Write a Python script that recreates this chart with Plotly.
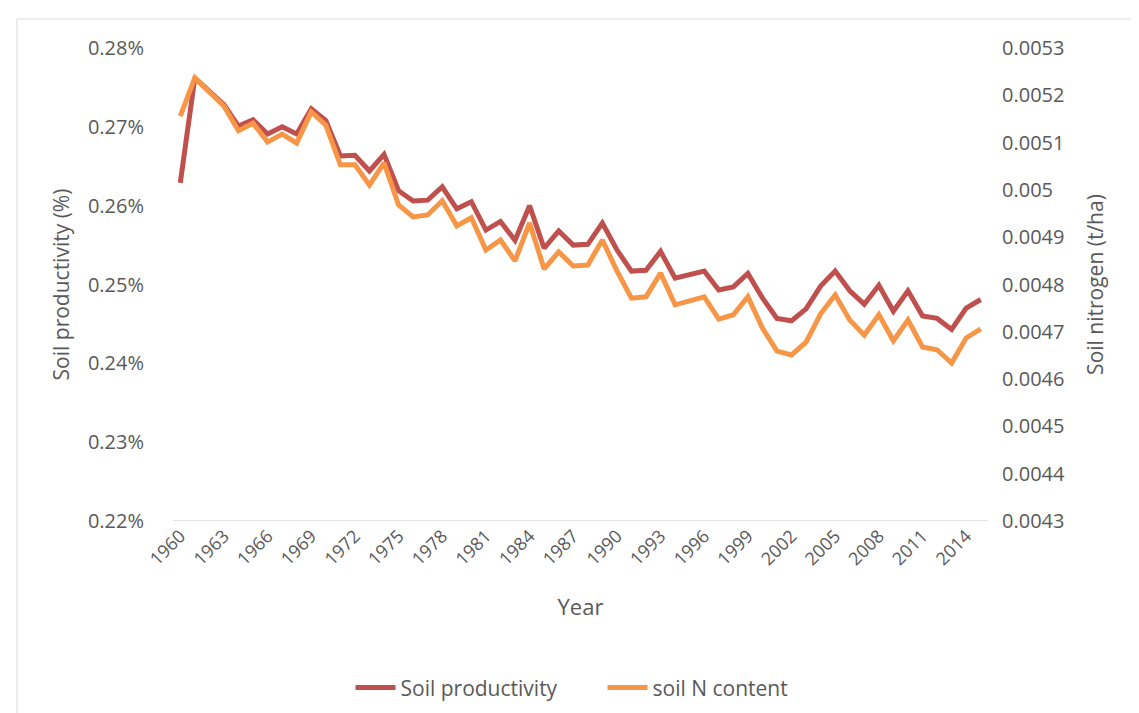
import plotly.graph_objects as go

years = list(range(1960, 2016))

soil_productivity = [
    0.2629, 0.2762, 0.2745, 0.2728, 0.2701, 0.2709, 0.2691, 0.2700, 0.2691, 0.2723,
    0.2708, 0.2663, 0.2664, 0.2644, 0.2665, 0.2619, 0.2606, 0.2607, 0.2624, 0.2596,
    0.2605, 0.2569, 0.2580, 0.2556, 0.2600, 0.2546, 0.2568, 0.2550, 0.2551, 0.2578,
    0.2544, 0.2517, 0.2518, 0.2542, 0.2508, 0.2512, 0.2517, 0.2493, 0.2497, 0.2514,
    0.2483, 0.2457, 0.2454, 0.2469, 0.2498, 0.2517, 0.2492, 0.2475, 0.2499, 0.2466,
    0.2492, 0.2460, 0.2457, 0.2443, 0.2470, 0.2481,
]

soil_n_content = [
    0.005156, 0.005237, 0.005207, 0.005177, 0.005125, 0.005141, 0.005101, 0.005118, 0.005099, 0.005165,
    0.005137, 0.005053, 0.005053, 0.005010, 0.005057, 0.004968, 0.004943, 0.004947, 0.004977, 0.004924,
    0.004941, 0.004873, 0.004894, 0.004850, 0.004930, 0.004833, 0.004869, 0.004839, 0.004841, 0.004894,
    0.004829, 0.004771, 0.004774, 0.004824, 0.004757, 0.004765, 0.004774, 0.004727, 0.004736, 0.004774,
    0.004708, 0.004659, 0.004651, 0.004678, 0.004738, 0.004778, 0.004725, 0.004693, 0.004736, 0.004681,
    0.004725, 0.004668, 0.004662, 0.004634, 0.004687, 0.004706,
]

x_tick_years = years[::3]
left_ticks = [0.22, 0.23, 0.24, 0.25, 0.26, 0.27, 0.28]
right_ticks = [0.0043, 0.0044, 0.0045, 0.0046, 0.0047, 0.0048, 0.0049, 0.0050, 0.0051, 0.0052, 0.0053]

RED = "#C0504D"
ORANGE = "#F79646"
TXT = "#595959"
FONT = "Open Sans"

fig = go.Figure()
fig.add_trace(go.Scatter(x=years, y=soil_productivity, name="Soil productivity",
                         mode="lines", line=dict(color=RED, width=5), yaxis="y"))
fig.add_trace(go.Scatter(x=years, y=soil_n_content, name="soil N content",
                         mode="lines", line=dict(color=ORANGE, width=5), yaxis="y2"))

fig.update_layout(
    width=1139, height=713,
    margin=dict(l=165, r=159, t=40, b=200),
    paper_bgcolor="white", plot_bgcolor="white",
    font=dict(family=FONT, size=19, color=TXT),
    showlegend=True,
    legend=dict(orientation="h", x=0.527, xanchor="center", y=-0.353, yanchor="middle",
                font=dict(family=FONT, size=21, color=TXT), itemwidth=40,
                entrywidth=197, traceorder="normal"),
    xaxis=dict(
        range=[1959.5, 2015.5], tickmode="array", tickvals=x_tick_years,
        ticktext=[str(y) for y in x_tick_years], tickangle=-45,
        showgrid=False, zeroline=False, showline=False, ticks="",
        tickfont=dict(family=FONT, size=18, color=TXT),
        title=dict(text="Year", font=dict(family=FONT, size=22, color=TXT), standoff=30),
    ),
    yaxis=dict(
        range=[0.22, 0.28], tickmode="array", tickvals=left_ticks,
        ticktext=[f"{v:.2f}%" for v in left_ticks],
        showgrid=False, zeroline=False, showline=False, ticks="",
        ticklabelstandoff=28,
        tickfont=dict(family=FONT, size=20, color=TXT),
        title=dict(text="Soil productivity (%)", font=dict(family=FONT, size=21, color=TXT), standoff=12),
    ),
    yaxis2=dict(
        range=[0.0043, 0.0053], overlaying="y", side="right", tickmode="array",
        tickvals=right_ticks, ticktext=[f"{v:.4f}".rstrip("0") for v in right_ticks],
        showgrid=False, zeroline=False, showline=False, ticks="",
        ticklabelstandoff=13,
        tickfont=dict(family=FONT, size=20, color=TXT),
        title=dict(text="Soil nitrogen (t/ha)", font=dict(family=FONT, size=21, color=TXT), standoff=24),
    ),
    shapes=[
        dict(type="line", xref="paper", yref="y", x0=0, x1=1, y0=0.22, y1=0.22,
             line=dict(color="#D9D9D9", width=1.5), layer="below"),
        dict(type="rect", xref="paper", yref="paper",
             x0=(9 - 165) / 815, x1=(1138 - 165) / 815,
             y0=-(711 - 513) / 473, y1=(513 - 11) / 473,
             line=dict(color="#D9D9D9", width=1), layer="below"),
    ],
)

fig.write_html("out.html")
